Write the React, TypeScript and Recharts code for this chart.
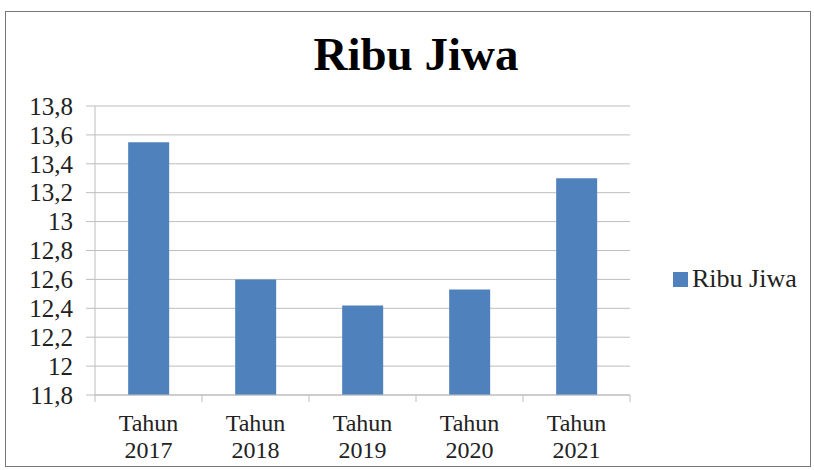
import React from 'react';
import { BarChart, Bar, XAxis, YAxis, CartesianGrid, Legend } from 'recharts';

const categories = ['Tahun 2017', 'Tahun 2018', 'Tahun 2019', 'Tahun 2020', 'Tahun 2021'];
const ribuJiwa = [13.55, 12.6, 12.42, 12.53, 13.3];
const yTicks = [11.8, 12, 12.2, 12.4, 12.6, 12.8, 13, 13.2, 13.4, 13.6, 13.8];

const data = categories.map((c, i) => ({ name: c, value: ribuJiwa[i] }));

const FONT = "'Liberation Serif', 'Times New Roman', serif";
const BLUE = '#4f81bd';
const GRID = '#bdbdbd';
const TXT = '#222';

// two-line category label, plus tick marks on the band edges
const XTick = (props: any) => {
  const { x, y, payload, index } = props;
  const [l1, l2] = String(payload.value).split(' ');
  const half = payload.offset || 0;
  const isLast = index === categories.length - 1;
  const st = { fontFamily: FONT, fontSize: 24, fill: TXT };
  return (
    <g>
      <line x1={x - half} x2={x - half} y1={y} y2={y + 7} stroke={GRID} />
      {isLast && <line x1={x + half} x2={x + half} y1={y} y2={y + 7} stroke={GRID} />}
      <text x={x} y={y + 36} textAnchor="middle" style={st}>
        {l1}
      </text>
      <text x={x} y={y + 63} textAnchor="middle" style={st}>
        {l2}
      </text>
    </g>
  );
};

const YTick = (props: any) => {
  const { x, y, payload } = props;
  return (
    <text x={x} y={y} dy="0.35em" textAnchor="end" style={{ fontFamily: FONT, fontSize: 25, fill: TXT }}>
      {String(payload.value).replace('.', ',')}
    </text>
  );
};

const LegendBox = () => (
  <div style={{ display: 'flex', alignItems: 'center', fontFamily: FONT, fontSize: 26, color: TXT }}>
    <span style={{ display: 'inline-block', width: 15, height: 15, background: BLUE, marginRight: 4 }} />
    <span>Ribu Jiwa</span>
  </div>
);

export default function App() {
  return (
    <div
      style={{
        position: 'absolute', left: 0, top: 0, width: 814, height: 470,
        background: '#fff', fontFamily: FONT,
      }}
    >
      <BarChart
        width={814}
        height={470}
        data={data}
        margin={{ top: 106, right: 184, bottom: 15, left: 0 }}
        barCategoryGap="31%"
        style={{ position: 'absolute', left: 0, top: 0 }}
      >
        <CartesianGrid vertical={false} stroke={GRID} />
        <XAxis
          dataKey="name"
          height={60}
          tickSize={0}
          tickMargin={0}
          tickLine={false}
          axisLine={{ stroke: GRID }}
          tick={<XTick />}
          interval={0}
        />
        <YAxis
          width={95}
          domain={[11.8, 13.8]}
          ticks={yTicks}
          interval={0}
          tickSize={9}
          tickMargin={13}
          tickLine={{ stroke: GRID }}
          axisLine={{ stroke: GRID }}
          tick={<YTick />}
        />
        <Legend
          layout="horizontal"
          verticalAlign="middle"
          align="center"
          wrapperStyle={{ left: 673, top: 264, width: 140 }}
          content={<LegendBox />}
        />
        <Bar dataKey="value" name="Ribu Jiwa" fill={BLUE} isAnimationActive={false} />
      </BarChart>
      <div
        style={{
          position: 'absolute', left: 5, top: 11, width: 804, height: 454,
          border: '1px solid #777', pointerEvents: 'none',
        }}
      />
      <div
        style={{
          position: 'absolute', left: 0, top: 31, width: 832, textAlign: 'center',
          fontFamily: FONT, fontWeight: 'bold', fontSize: 47, lineHeight: '47px', color: '#000',
        }}
      >
        Ribu Jiwa
      </div>
    </div>
  );
}
